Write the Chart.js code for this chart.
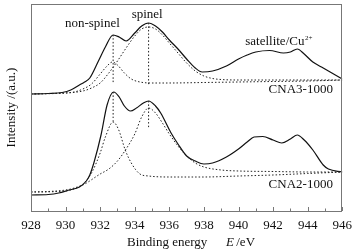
<!DOCTYPE html>
<html>
<head>
<meta charset="utf-8">
<script src="https://cdn.jsdelivr.net/npm/chart.js@4/dist/chart.umd.min.js"></script>
<style>
  html, body { margin: 0; padding: 0; background: #fff; }
  #wrap { width: 359px; height: 249px; }
</style>
</head>
<body>
<div id="wrap"><canvas id="xps" width="359" height="249"></canvas></div>
<script>
// binding energy (eV) / intensity (a.u.)
const cna3E = [928, 929, 929.8, 930.3, 930.8, 931.1, 931.4, 931.9, 932.3, 932.75, 933.1, 933.5, 934, 934.4, 934.8, 935.2, 935.6, 936, 936.5, 937, 937.5, 937.9, 938.5, 939.3, 940, 940.5, 941, 941.8, 942.6, 943, 943.4, 943.8, 944.3, 944.8, 945.2, 946];
const cna3I = [117, 117.5, 118.5, 121, 126, 129, 133, 150, 164, 176, 174, 170, 178, 185, 188, 185, 179, 171, 162, 152, 143, 139, 140, 145, 152, 156, 159, 160.5, 158, 159, 162, 157, 149, 144, 140, 132];

const cna3NonSpinelE = [928, 929, 930, 930.5, 931, 931.5, 932, 932.4, 932.7, 933, 933.4, 933.8, 934.3, 935, 936, 938, 940, 942, 944, 946];
const cna3NonSpinelI = [117, 117.5, 118, 119, 122, 127, 137, 145, 149, 146, 138, 132, 129, 128, 128, 128.5, 129, 129.5, 130, 131];

const cna3SpinelE = [928, 930, 931, 931.5, 932, 932.5, 933, 933.5, 934, 934.4, 934.8, 935.2, 935.6, 936, 936.5, 937, 937.5, 938, 938.5, 939, 940, 942, 944, 946];
const cna3SpinelI = [117, 118, 120, 123, 128, 138, 150, 163, 175, 182, 184, 182, 176, 168, 158, 148, 140, 135, 132.5, 131.5, 131, 131, 131, 131];

const cna2E = [928, 929, 929.6, 930.2, 930.8, 931.2, 931.4, 931.65, 932.05, 932.4, 932.78, 933.1, 933.4, 933.75, 934.1, 934.5, 934.8, 935.2, 935.5, 936.1, 936.5, 937, 937.5, 938, 938.5, 939.3, 940, 940.5, 940.9, 941.4, 942, 942.5, 943, 943.4, 943.8, 944.3, 944.9, 945.2, 946];
const cna2I = [16, 16.5, 18, 21, 24, 30, 36, 49, 76, 106, 119, 114, 105, 100, 103, 108, 110, 105, 98, 78, 67, 55, 50, 47, 48, 54, 62, 69, 74, 74.5, 71, 68, 72, 76, 71, 61, 46, 42, 39];

const cna2NonSpinelE = [928, 929, 930, 930.5, 931, 931.5, 932, 932.3, 932.75, 933.05, 933.45, 933.8, 934.3, 934.8, 936, 938, 940, 942, 944, 946];
const cna2NonSpinelI = [19, 19.5, 21, 23, 27, 38, 58, 74, 89, 82, 61, 48, 37, 35, 34, 34, 35, 36, 37.5, 39];

const cna2SpinelE = [928, 930, 931, 932, 932.5, 933, 933.5, 934, 934.4, 934.8, 935.2, 935.6, 936, 936.5, 937, 937.5, 938, 939, 940, 942, 944, 946];
const cna2SpinelI = [19, 20, 26, 37, 42, 50, 62, 77, 94, 103, 98, 88, 77, 65, 55, 48, 44, 41, 40, 39.5, 39, 39];

// peak position markers (energy, top, bottom)
const cna3PeakE = [932.75, 934.8];
const cna3PeakTop = [176, 188];
const cna3PeakBottom = [128, 125];
const cna2PeakE = [932.75, 934.8];
const cna2PeakTop = [119, 110];
const cna2PeakBottom = [88, 83];

const xTicks = [928, 930, 932, 934, 936, 938, 940, 942, 944, 946];

const serif = '"Liberation Serif", "Times New Roman", serif';
const toPts = (xs, ys) => xs.map((x, i) => ({x: x, y: ys[i]}));

function solid(xs, ys) {
  return {data: toPts(xs, ys), borderColor: '#111', borderWidth: 1.2, pointRadius: 0,
          cubicInterpolationMode: 'monotone', fill: false};
}
function dotted(xs, ys) {
  return {data: toPts(xs, ys), borderColor: '#222', borderWidth: 1, borderDash: [1.5, 2],
          pointRadius: 0, cubicInterpolationMode: 'monotone', fill: false};
}

const datasets = [
  dotted(cna3NonSpinelE, cna3NonSpinelI),
  dotted(cna3SpinelE, cna3SpinelI),
  dotted(cna2NonSpinelE, cna2NonSpinelI),
  dotted(cna2SpinelE, cna2SpinelI),
  solid(cna3E, cna3I),
  solid(cna2E, cna2I)
];
cna3PeakE.forEach((e, i) => datasets.push(dotted([e, e], [cna3PeakTop[i], cna3PeakBottom[i]])));
cna2PeakE.forEach((e, i) => datasets.push(dotted([e, e], [cna2PeakTop[i], cna2PeakBottom[i]])));

// labels placed in data coordinates
const notes = [
  {text: 'non-spinel', x: 931.55, y: 187},
  {text: 'spinel', x: 934.72, y: 196},
  {text: 'CNA3-1000', x: 943.6, y: 121},
  {text: 'CNA2-1000', x: 943.6, y: 26}
];

const decor = {
  id: 'decor',
  afterDatasetsDraw(chart) {
    const ctx = chart.ctx;
    const a = chart.chartArea;
    const xs = chart.scales.x, ys = chart.scales.y;
    ctx.save();
    // frame
    ctx.strokeStyle = '#777';
    ctx.lineWidth = 1;
    ctx.strokeRect(Math.round(a.left) + 0.5, Math.round(a.top) + 0.5,
                   Math.round(a.right - a.left) - 1, Math.round(a.bottom - a.top));
    // inward ticks
    ctx.beginPath();
    for (let v = 928; v <= 946; v++) {
      const px = Math.round(xs.getPixelForValue(v)) + 0.5;
      const len = v % 2 === 0 ? 4 : 2.5;
      ctx.moveTo(px, a.bottom);
      ctx.lineTo(px, a.bottom - len);
    }
    ctx.stroke();

    ctx.fillStyle = '#111';
    ctx.textBaseline = 'middle';
    ctx.textAlign = 'center';
    ctx.font = '13px ' + serif;
    notes.forEach(n => ctx.fillText(n.text, xs.getPixelForValue(n.x), ys.getPixelForValue(n.y)));

    // satellite/Cu2+ with superscript
    const sx = xs.getPixelForValue(942.1), sy = ys.getPixelForValue(169);
    ctx.textAlign = 'center';
    ctx.fillText('satellite/Cu', sx, sy);
    const w = ctx.measureText('satellite/Cu').width;
    ctx.font = '7px ' + serif;
    ctx.textAlign = 'left';
    ctx.fillText('2+', sx + w / 2 + 0.5, sy - 4);

    // x axis title with italic symbol
    const ty = 243;
    ctx.font = '13px ' + serif;
    ctx.textAlign = 'left';
    ctx.fillText('Binding energy', 127, ty);
    ctx.font = 'italic 13px ' + serif;
    ctx.fillText('E', 226, ty);
    ctx.font = '13px ' + serif;
    ctx.fillText(' /eV', 233, ty);
    ctx.restore();
  }
};

new Chart(document.getElementById('xps').getContext('2d'), {
  type: 'line',
  data: {datasets: datasets},
  options: {
    responsive: false,
    animation: false,
    events: [],
    layout: {padding: {left: 0, right: 12, top: 4, bottom: 0}},
    scales: {
      x: {
        type: 'linear',
        min: 928,
        max: 946,
        grid: {display: false, drawTicks: false},
        border: {display: false},
        afterBuildTicks: s => { s.ticks = xTicks.map(v => ({value: v})); },
        ticks: {
          autoSkip: false,
          maxRotation: 0,
          padding: 7,
          color: '#111',
          font: {family: serif, size: 13}
        },
        afterFit: s => { s.height = 38; }
      },
      y: {
        type: 'linear',
        min: 0,
        max: 207,
        grid: {display: false, drawTicks: false},
        border: {display: false},
        ticks: {display: false},
        title: {display: true, text: 'Intensity /(a.u.)', color: '#111',
                font: {family: serif, size: 13}, padding: {top: 4, bottom: 0}},
        afterFit: s => { s.width = 31; }
      }
    },
    plugins: {
      legend: {display: false},
      tooltip: {enabled: false}
    }
  },
  plugins: [decor]
});
</script>
</body>
</html>
